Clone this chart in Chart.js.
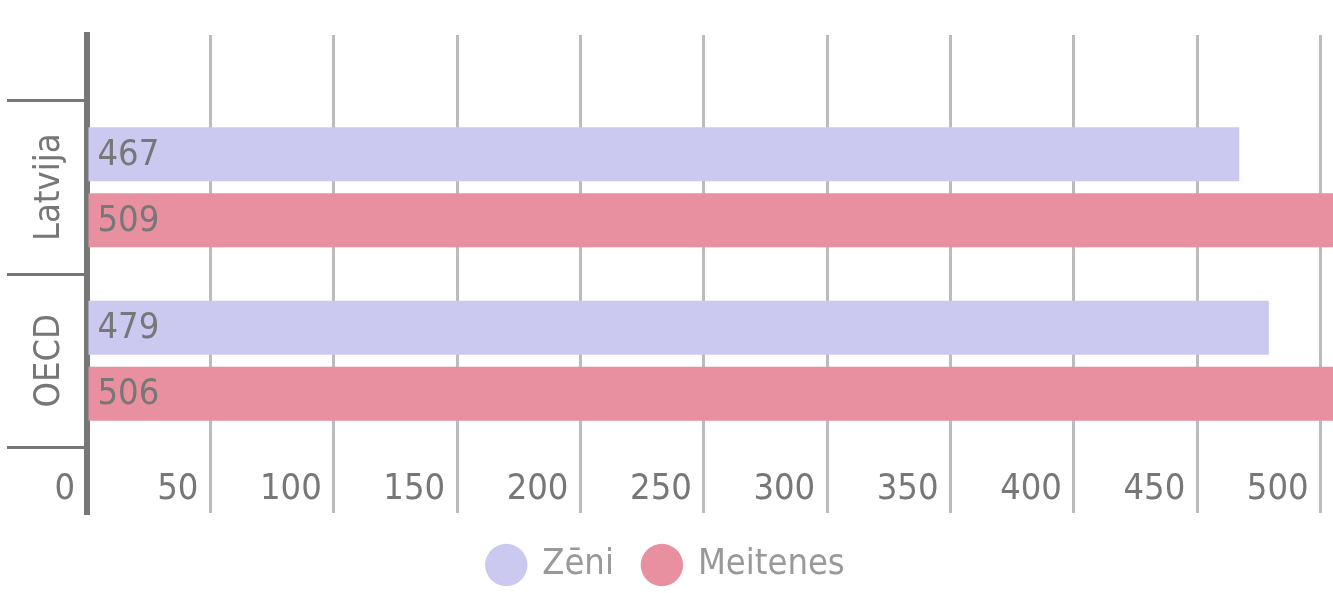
<!DOCTYPE html>
<html>
<head>
<meta charset="utf-8">
<script src="https://cdn.jsdelivr.net/npm/chart.js@4"></script>
<style>
  html, body { margin: 0; padding: 0; background: #fff; }
  #wrap { width: 1333px; height: 593px; }
</style>
</head>
<body>
<div id="wrap"><canvas id="chart"></canvas></div>
<script>
var categories = ['Latvija', 'OECD'];
var seriesNames = ['Zēni', 'Meitenes'];
var boysValues = [467, 479];
var girlsValues = [509, 506];
var xTicksMax = 505;

var fontFamily = "'DejaVu Sans Condensed', 'DejaVu Sans', sans-serif";
Chart.defaults.font.family = fontFamily;
Chart.defaults.font.size = 36;
Chart.defaults.color = '#777';

// numbers written at the start of each bar
var barLabels = {
  id: 'barLabels',
  afterDatasetsDraw: function (chart) {
    var ctx = chart.ctx;
    ctx.save();
    ctx.font = '36px ' + fontFamily;
    ctx.fillStyle = '#777';
    ctx.textAlign = 'left';
    ctx.textBaseline = 'middle';
    chart.data.datasets.forEach(function (ds, i) {
      chart.getDatasetMeta(i).data.forEach(function (bar, j) {
        var p = bar.getProps(['base', 'y'], true);
        ctx.fillText(ds.data[j], p.base + 9, p.y + 1);
      });
    });
    ctx.restore();
  }
};

var webChart = new Chart(document.getElementById('chart'), {
  type: 'bar',
  data: {
    labels: categories,
    datasets: [{
      label: seriesNames[0],
      data: boysValues,
      backgroundColor: '#cbc9f0'
    }, {
      label: seriesNames[1],
      data: girlsValues,
      backgroundColor: '#e890a0'
    }]
  },
  options: {
    indexAxis: 'y',
    responsive: true,
    maintainAspectRatio: false,
    animation: false,
    categoryPercentage: 0.761,
    barPercentage: 0.818,
    layout: { padding: { top: 35, left: 0, right: 0, bottom: 0 } },
    scales: {
      x: {
        min: 0,
        max: xTicksMax,
        border: { display: false },
        grid: { color: '#bcbcbc', lineWidth: 3, drawTicks: false },
        ticks: {
          stepSize: 50,
          includeBounds: false,
          mirror: true,
          align: 'end',
          labelOffset: -12,
          padding: 2,
          color: '#777'
        }
      },
      y: {
        offset: true,
        border: { display: true, color: '#777', width: 6 },
        grid: { offset: true, drawOnChartArea: false, color: '#777', lineWidth: 3, tickLength: 80 },
        ticks: {
          minRotation: 90,
          maxRotation: 90,
          crossAlign: 'center',
          padding: -96,
          color: '#777'
        },
        afterBuildTicks: function (s) {
          // leave empty room above and below the two groups
          s._startValue -= 0.378;
          s._valueRange += 0.756;
        },
        afterFit: function (s) { s.width = 87; }
      }
    },
    plugins: {
      legend: {
        position: 'bottom',
        labels: {
          usePointStyle: true,
          pointStyle: 'circle',
          boxWidth: 36,
          boxHeight: 30,
          padding: 30,
          color: '#999',
          font: { size: 36 }
        }
      },
      tooltip: { enabled: false }
    }
  },
  plugins: [barLabels]
});
</script>
</body>
</html>
